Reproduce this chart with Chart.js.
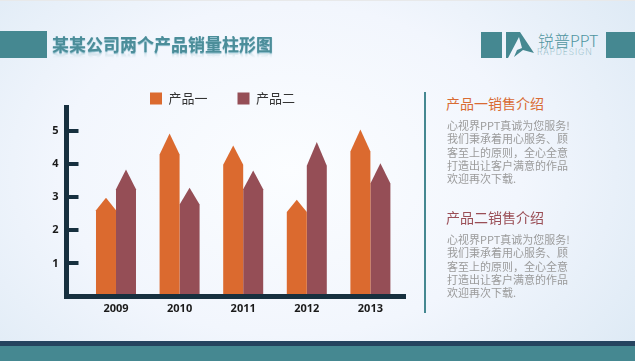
<!DOCTYPE html>
<html>
<head>
<meta charset="utf-8">
<script src="https://cdn.jsdelivr.net/npm/chart.js@4"></script>
<style>
html, body { margin: 0; padding: 0; }
body {
    position: relative; width: 635px; height: 361px; overflow: hidden;
    font-family: "Noto Sans CJK SC", sans-serif;
    background: radial-gradient(ellipse 420px 300px at 290px 170px, #fbfdff 0%, #f2f6fd 55%, #deeaf5 100%);
}
.abs { position: absolute; }
.teal { background: #458891; }
#title {
    left: 52px; top: 31px; font-size: 17px; line-height: 26px; font-weight: 700; color: #4b8d99;
    text-shadow: 0 1px 1px #7fb4c4; white-space: nowrap;
    -webkit-box-reflect: below -9px linear-gradient(transparent 62%, rgba(255,255,255,0.4));
}
.head { left: 446px; font-size: 14px; line-height: 20px; white-space: nowrap; }
.body { left: 447px; font-size: 11px; line-height: 13.35px; color: #9b9b9b; white-space: nowrap; }
</style>
</head>
<body>
<div class="abs" style="left:0;top:0;width:635px;height:1px;background:#e8e9ea"></div>
<div class="abs teal" style="left:0;top:31px;width:47px;height:27px"></div>
<div class="abs" id="title">某某公司两个产品销量柱形图</div>

<div class="abs teal" style="left:481px;top:32px;width:21px;height:26px"></div>
<svg class="abs" style="left:505px;top:31px" width="30" height="28">
    <polygon fill="#458891" points="1,1 15,1 29,22 18,19 9,26 12,19 17,17 14,6 3,27 1,27"/>
</svg>
<div class="abs" style="left:538px;top:30px;font-size:16px;line-height:20px;font-weight:300;color:#4f95a0;white-space:nowrap">锐普PPT</div>
<div class="abs" style="left:537px;top:47px;font-family:'Inter';font-size:8.5px;line-height:11px;font-weight:200;letter-spacing:0.9px;color:#7fb0ba;white-space:nowrap">RAPDESIGN</div>
<div class="abs teal" style="left:606px;top:32px;width:29px;height:26px"></div>

<canvas id="salesChart" class="abs" style="left:0;top:0" width="442" height="361"></canvas>

<div class="abs teal" style="left:424px;top:92px;width:2px;height:221px"></div>
<div class="abs head" style="top:93px;color:#d96b33">产品一销售介绍</div>
<div class="abs body" id="desc1" style="top:119px"></div>
<div class="abs head" style="top:207px;color:#9a4e56">产品二销售介绍</div>
<div class="abs body" id="desc2" style="top:233px"></div>

<div class="abs" style="left:0;top:341px;width:635px;height:5px;background:#25445f"></div>
<div class="abs teal" style="left:0;top:346px;width:635px;height:15px"></div>

<script>
const years = [2009, 2010, 2011, 2012, 2013];
const seriesNames = ['产品一', '产品二'];
// top of each arrow, and the height where the arrow head starts
const product1 = [2.98, 4.92, 4.56, 2.92, 5.04];
const product2 = [3.83, 3.28, 3.8, 4.66, 4.02];
const shoulder1 = [2.6, 4.29, 3.98, 2.55, 4.38];
const shoulder2 = [3.24, 2.78, 3.24, 3.95, 3.41];
const yTickLabels = [1, 2, 3, 4, 5];
const descLines = ['心视界PPT真诚为您服务!', '我们秉承着用心服务、顾', '客至上的原则，全心全意', '打造出让客户满意的作品', '欢迎再次下载.'];

document.getElementById('desc1').innerHTML = descLines.join('<br>');
document.getElementById('desc2').innerHTML = descLines.join('<br>');

const axisColor = '#17303f';
const tickFont = { family: '"Open Sans"', size: 11, weight: 'bold' };

// draws each bar as a pentagon instead of a rectangle
const arrowBars = {
    id: 'arrowBars',
    beforeDatasetDraw(chart, args) {
        const ctx = chart.ctx;
        const dataset = chart.data.datasets[args.index];
        const yScale = chart.scales.y;
        args.meta.data.forEach((bar, i) => {
            const left = bar.x - bar.width / 2;
            const right = bar.x + bar.width / 2;
            const shoulderY = yScale.getPixelForValue(dataset.shoulders[i]);
            ctx.save();
            ctx.fillStyle = dataset.backgroundColor;
            ctx.beginPath();
            ctx.moveTo(left, bar.base);
            ctx.lineTo(left, shoulderY);
            ctx.lineTo(bar.x, bar.y);
            ctx.lineTo(right, shoulderY);
            ctx.lineTo(right, bar.base);
            ctx.closePath();
            ctx.fill();
            ctx.restore();
        });
        return false;
    },
    // legend sits closer to the plot and further right than the layout allows
    afterLayout(chart) {
        const legend = chart.legend;
        legend.top += 8;
        legend.bottom += 8;
        legend.left += 20;
        legend.right += 20;
    }
};

new Chart(document.getElementById('salesChart').getContext('2d'), {
    type: 'bar',
    plugins: [arrowBars],
    data: {
        datasets: [
            {
                label: seriesNames[0],
                data: years.map((year, i) => ({ x: year, y: product1[i] })),
                shoulders: shoulder1,
                backgroundColor: '#db6a2f',
                barThickness: 20
            },
            {
                label: seriesNames[1],
                data: years.map((year, i) => ({ x: year, y: product2[i] })),
                shoulders: shoulder2,
                backgroundColor: '#954e56',
                barThickness: 20
            }
        ]
    },
    options: {
        responsive: false,
        animation: false,
        layout: { padding: { top: 54, right: 37, left: 0, bottom: 0 } },
        plugins: {
            tooltip: { enabled: false },
            legend: {
                labels: {
                    boxWidth: 12,
                    boxHeight: 12,
                    padding: 30,
                    color: '#333333',
                    font: { family: '"Noto Sans CJK SC"', size: 13 }
                }
            }
        },
        scales: {
            x: {
                type: 'linear',
                offset: false,
                min: 2008.214,
                max: 2013.544,
                afterFit: scale => { scale.height = 64.5; },
                grid: { display: false, offset: false },
                border: { color: axisColor, width: 5, z: 1 },
                ticks: {
                    stepSize: 1,
                    includeBounds: false,
                    maxRotation: 0,
                    padding: -2.5,
                    color: '#1a1a1a',
                    font: tickFont,
                    callback: v => String(v)
                }
            },
            y: {
                min: 0,
                max: 5.72,
                afterFit: scale => { scale.width = 66; },
                grid: { drawOnChartArea: false, color: axisColor, lineWidth: 4, tickLength: -12.5, z: 1 },
                border: { color: axisColor, width: 5, z: 1 },
                ticks: {
                    stepSize: 1,
                    includeBounds: false,
                    padding: 20,
                    color: '#1a1a1a',
                    font: tickFont,
                    callback: v => yTickLabels.includes(v) ? String(v) : ''
                }
            }
        }
    }
});
</script>
</body>
</html>
